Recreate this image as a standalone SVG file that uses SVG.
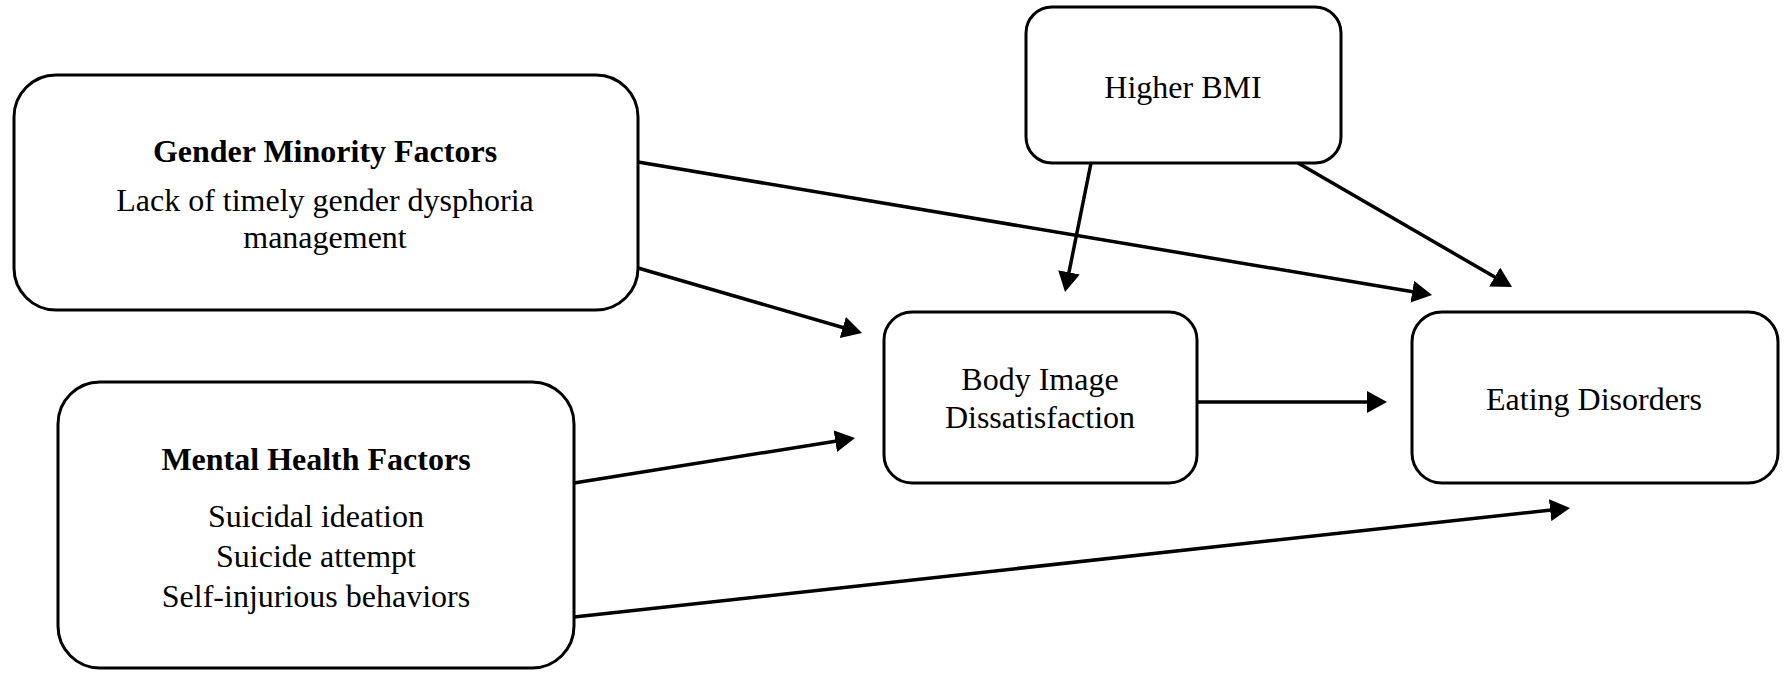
<svg xmlns="http://www.w3.org/2000/svg" width="1786" height="678" viewBox="0 0 1786 678">
  <defs>
    <marker id="arrow" viewBox="0 0 20 22" markerWidth="20" markerHeight="22" refX="8" refY="11" orient="auto" markerUnits="userSpaceOnUse">
      <path d="M0,0 L20,11 L0,22 z" fill="#000"/>
    </marker>
    <style>
      .box { fill: #fff; stroke: #000; stroke-width: 3; }
      .txt { font-family: "Liberation Serif", "Times New Roman", serif; font-size: 32px; fill: #000; text-anchor: middle; }
      .bold { font-weight: bold; }
      .edge { stroke: #000; stroke-width: 3.5; fill: none; marker-end: url(#arrow); }
    </style>
  </defs>
  <rect width="1786" height="678" fill="#fff"/>

  <g id="gender-minority">
    <rect class="box" x="14" y="75" width="624" height="235" rx="42" ry="42"/>
    <text class="txt bold" x="325" y="162">Gender Minority Factors</text>
    <text class="txt" x="325" y="211">Lack of timely gender dysphoria</text>
    <text class="txt" x="325" y="248">management</text>
  </g>

  <g id="mental-health">
    <rect class="box" x="58" y="382" width="516" height="286" rx="42" ry="42"/>
    <text class="txt bold" x="316" y="470">Mental Health Factors</text>
    <text class="txt" x="316" y="527">Suicidal ideation</text>
    <text class="txt" x="316" y="567">Suicide attempt</text>
    <text class="txt" x="316" y="607">Self-injurious behaviors</text>
  </g>

  <g id="higher-bmi">
    <rect class="box" x="1026" y="7" width="315" height="156" rx="26" ry="26"/>
    <text class="txt" x="1183" y="98">Higher BMI</text>
  </g>

  <g id="body-image">
    <rect class="box" x="884" y="312" width="313" height="171" rx="28" ry="28"/>
    <text class="txt" x="1040" y="390">Body Image</text>
    <text class="txt" x="1040" y="428">Dissatisfaction</text>
  </g>

  <g id="eating-disorders">
    <rect class="box" x="1412" y="312" width="366" height="171" rx="30" ry="30"/>
    <text class="txt" x="1594" y="410">Eating Disorders</text>
  </g>

  <g id="connectors">
    <line class="edge" x1="638" y1="162" x2="1420.2" y2="293.0"/>
    <line class="edge" x1="638" y1="268" x2="850.5" y2="329.7"/>
    <line class="edge" x1="1091" y1="163" x2="1067.4" y2="280.2"/>
    <line class="edge" x1="1298" y1="163" x2="1501.6" y2="281.0"/>
    <line class="edge" x1="1196" y1="402" x2="1375" y2="402"/>
    <line class="edge" x1="574" y1="483" x2="843.2" y2="439.9"/>
    <line class="edge" x1="574" y1="617" x2="1558.1" y2="509.3"/>
  </g>
</svg>
